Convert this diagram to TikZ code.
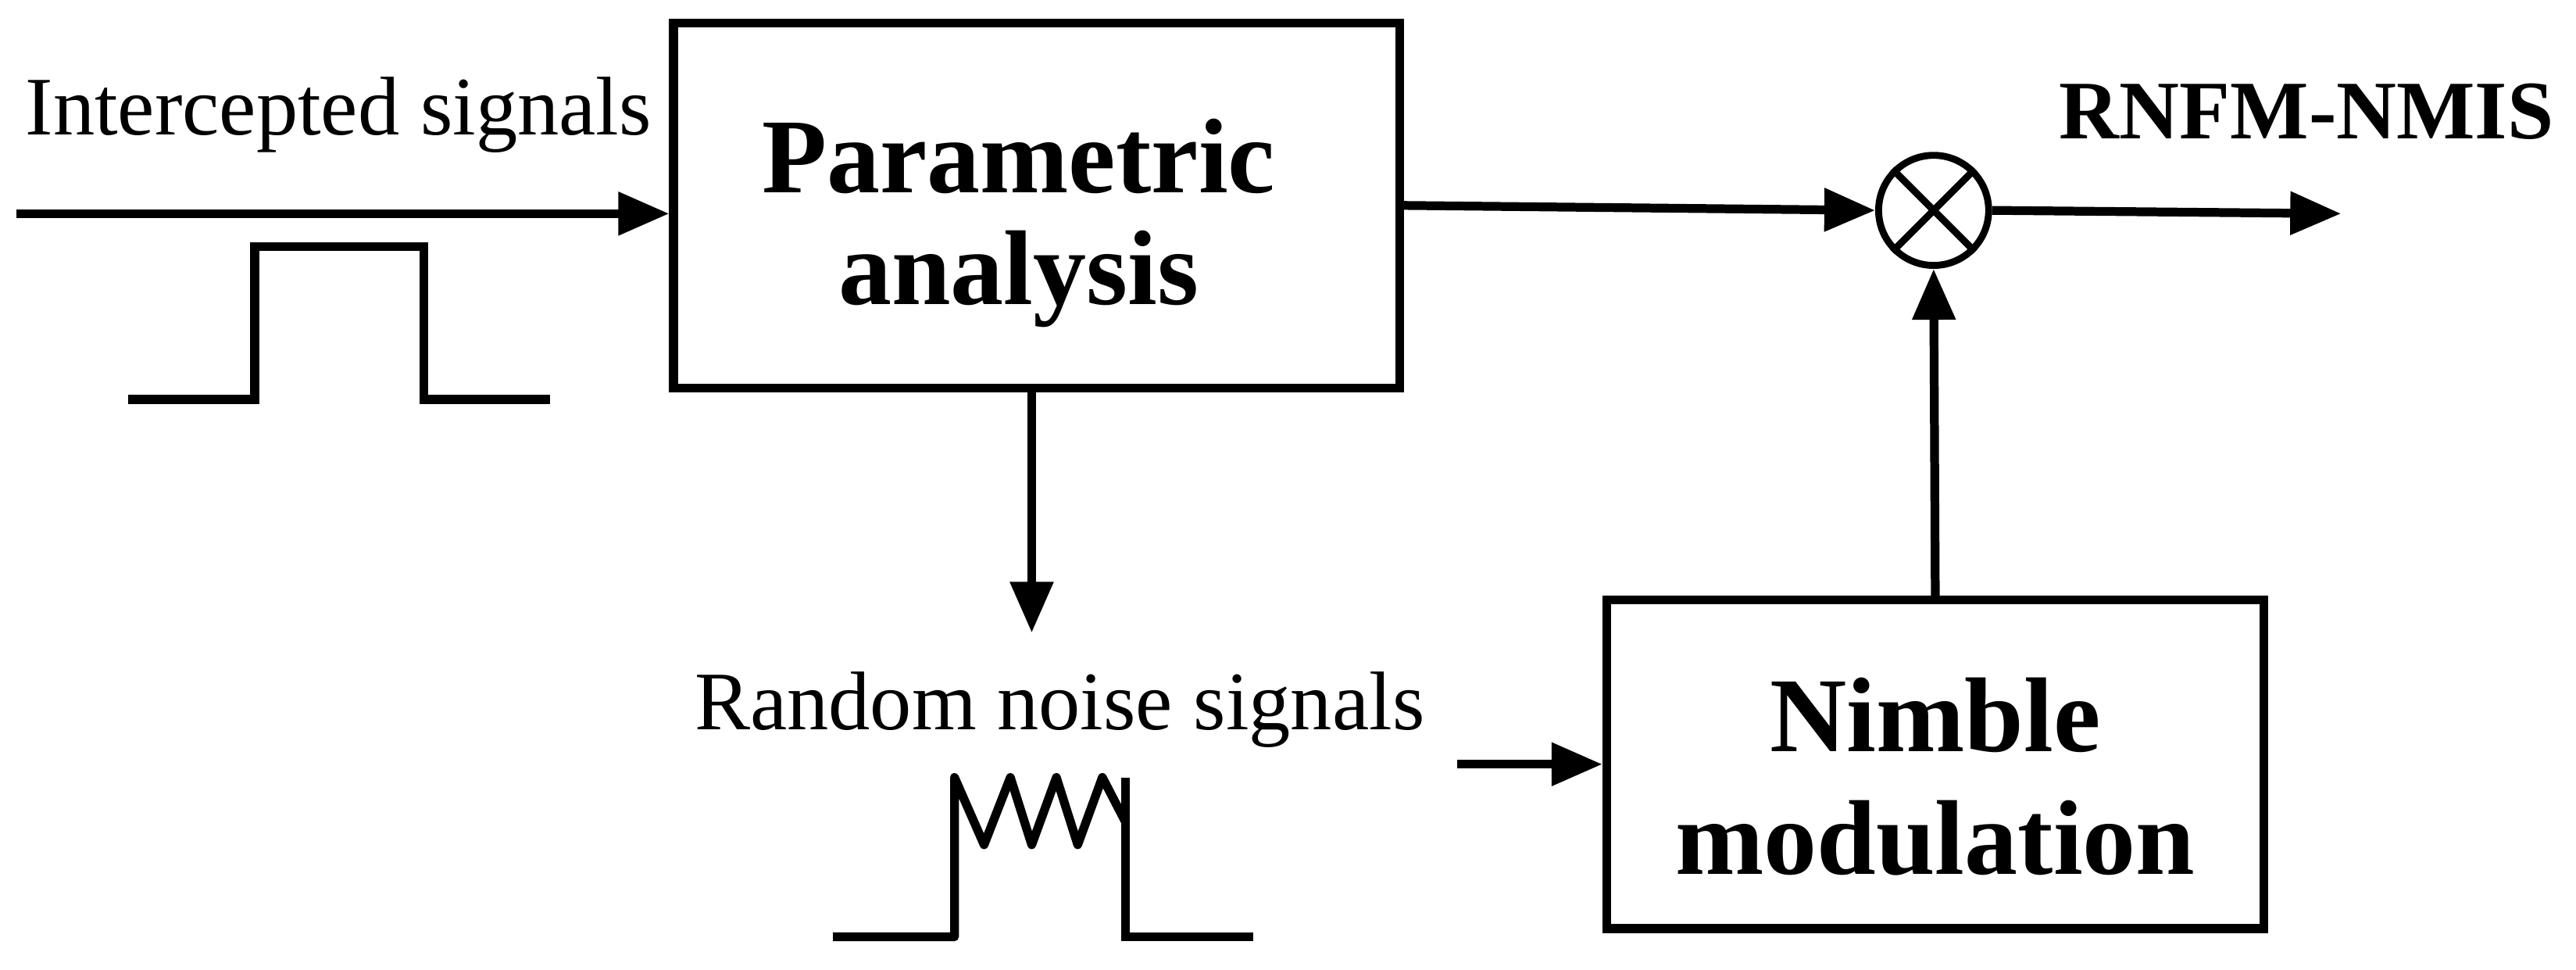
\documentclass[tikz,border=0pt]{standalone}
\usepackage{fontspec}
\setmainfont{Liberation Serif}
\usetikzlibrary{arrows.meta}
\begin{document}
\begin{tikzpicture}[x=0.025cm,y=-0.025cm,line width=3.8pt,
  arr/.style={-{Triangle[length=22pt,width=18pt]}},
  blk/.style={draw,rectangle,align=center,inner sep=0pt},
  big/.style={font=\fontsize{46}{72}\selectfont\bfseries},
  lbl/.style={font=\fontsize{36}{40}\selectfont,inner sep=0pt}]
\useasboundingbox (0,0) rectangle (1568,590);
\node[blk,minimum width=442*0.025cm,minimum height=222*0.025cm] (pa) at (631,125) {};
\node[big,inner sep=0pt] (pat) at (620,95) {Parametric};
\node[big,inner sep=0pt] (pab) at (620,170) {analysis};
\node[blk,minimum width=400*0.025cm,minimum height=200*0.025cm] (nm) at (1178,465) {};
\node[big,inner sep=0pt] (nmt) at (1178,435) {Nimble};
\node[big,inner sep=0pt] (nmb) at (1178,510) {modulation};
\node[draw,circle,minimum size=67*0.025cm,inner sep=0pt,line width=3pt] (m) at (1177,128) {};
\draw[line width=3pt] (m.north west) -- (m.south east) (m.north east) -- (m.south west);
\node[lbl] (in) at (206,70) {Intercepted signals};
\node[lbl,font=\fontsize{36}{40}\selectfont\bfseries] (out) at (1404,68) {RNFM-NMIS};
\node[lbl] (rn) at (645,432) {Random noise signals};
\coordinate (s) at (10,130);
\coordinate (e) at (1425,130);
\coordinate (pb) at (628,236);
\coordinate (pd) at (628,385);
\coordinate (ns) at (887,465);
\draw[arr] (s) -- (s -| pa.west);
\draw[arr] (pa.east |- 0,125) -- (m.west);
\draw[arr] (m.east) -- (e);
\draw[arr] (pb) -- (pd);
\draw[arr] (ns) -- (ns -| nm.west);
\draw[arr] (nm.north) -- (m.south);
\draw (78,243) -- (155,243) -- (155,150) -- (258,150) -- (258,243) -- (335,243);
\draw[line join=round] (507,570) -- (581,570) -- (581,473) -- (599,514) -- (615,473) -- (628,514) -- (643,473) -- (656,514) -- (671,473) -- (685,500);
\draw (685,473) -- (685,570) -- (763,570);
\end{tikzpicture}
\end{document}
